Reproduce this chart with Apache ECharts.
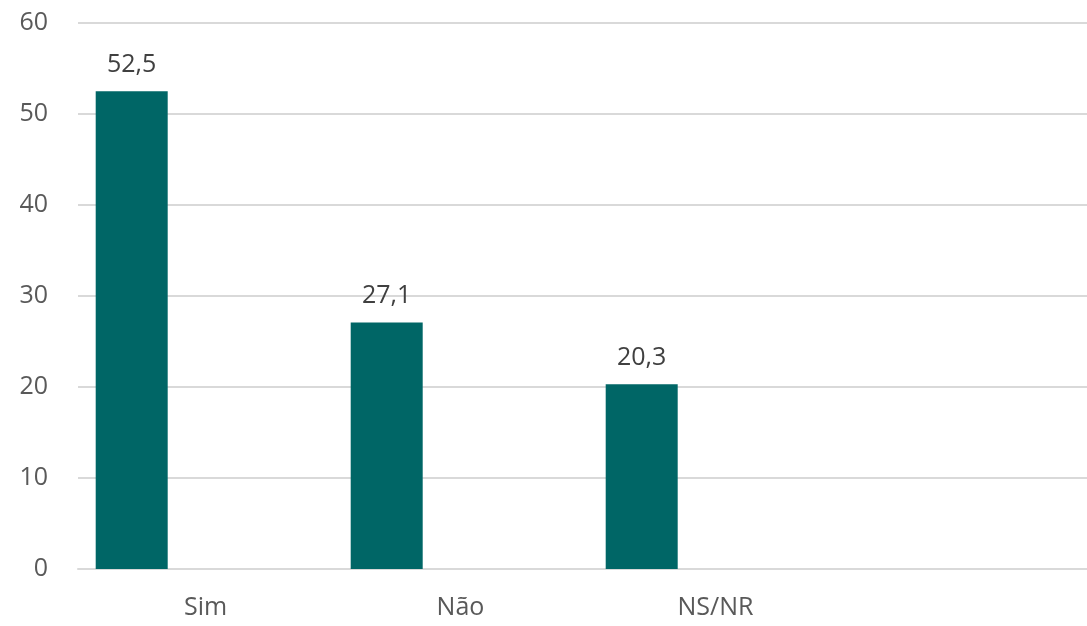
<!DOCTYPE html>
<html>
<head>
<meta charset="utf-8">
<script src="https://cdn.jsdelivr.net/npm/echarts@6/dist/echarts.min.js"></script>
<style>
  html, body { margin: 0; padding: 0; background: #fff; }
  #chart { width: 1087px; height: 626px; }
</style>
</head>
<body>
<div id="chart"></div>
<script>
const categories = ['Sim', 'Não', 'NS/NR', '']
const values = [52.5, 27.1, 20.3, null]
// Excel draws this with empty companion series, so the real bar sits at the left of each slot
const emptyValues = [null, null, null, null]
const yTicks = { min: 0, max: 60, interval: 10 }

const chart = echarts.init(document.getElementById('chart'))
const font = '"Open Sans", sans-serif'

chart.setOption({
  animation: false,
  // plot runs past the right edge of the picture, as in the original
  grid: { left: 78, width: 1020, top: 23, bottom: 57, outerBoundsMode: 'none' },
  xAxis: {
    type: 'category',
    data: categories,
    axisLine: { lineStyle: { color: '#d9d9d9', width: 2 } },
    axisTick: { show: false },
    axisLabel: { color: '#595959', fontSize: 25, fontFamily: font, margin: 26 }
  },
  yAxis: {
    type: 'value',
    min: yTicks.min,
    max: yTicks.max,
    interval: yTicks.interval,
    axisLine: { show: false },
    axisTick: { show: false },
    axisLabel: { color: '#595959', fontSize: 25, fontFamily: font, margin: 30 },
    splitLine: { lineStyle: { color: '#d9d9d9', width: 2 } }
  },
  series: [
    {
      type: 'bar',
      data: values,
      barWidth: 72,
      barGap: '2.5%',
      itemStyle: { color: '#006666' },
      label: {
        show: true,
        position: 'top',
        distance: 14,
        color: '#404040',
        fontSize: 25,
        fontFamily: font,
        formatter: p => String(p.value).replace('.', ',')
      }
    },
    { type: 'bar', data: emptyValues, barWidth: 72 },
    { type: 'bar', data: emptyValues, barWidth: 72 }
  ]
})
</script>
</body>
</html>
